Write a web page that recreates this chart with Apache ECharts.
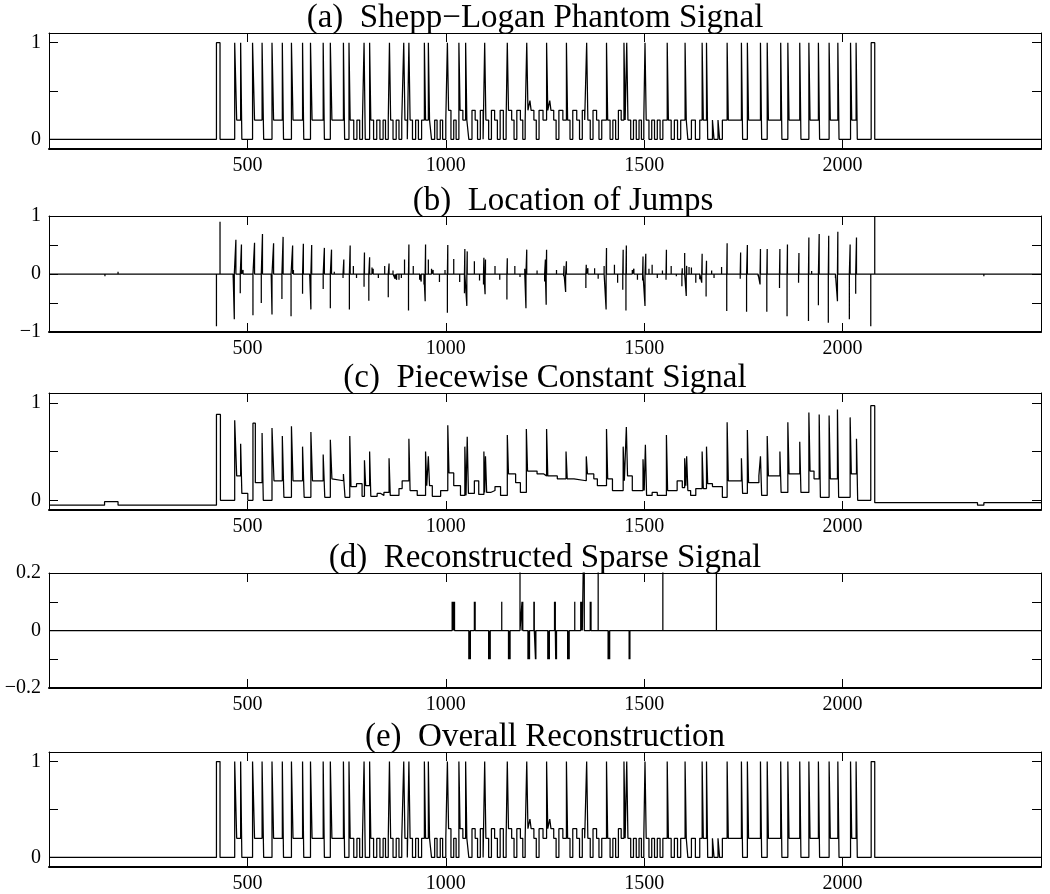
<!DOCTYPE html>
<html><head><meta charset="utf-8">
<script src="https://cdn.jsdelivr.net/npm/echarts@6/dist/echarts.min.js"></script>
<style>html,body{margin:0;padding:0;background:#fff}#c{width:1050px;height:894px}</style>
</head><body><div id="c"></div>
<script>
// ---------- titles & ticks ----------
const panelTitles = [
  '(a)  Shepp\u2212Logan Phantom Signal',
  '(b)  Location of Jumps',
  '(c)  Piecewise Constant Signal',
  '(d)  Reconstructed Sparse Signal',
  '(e)  Overall Reconstruction'
];
const xTickValues = [500, 1000, 1500, 2000];
const xRange = [0, 2500];
const yRanges = [[-0.1, 1.1], [-1, 1], [-0.1, 1.1], [-0.2, 0.2], [-0.1, 1.1]];
const yTickValues = [[0, 0.5, 1], [-1, -0.5, 0, 0.5, 1], [0, 0.5, 1], [-0.2, -0.1, 0, 0.1, 0.2], [0, 0.5, 1]];
const yTickLabels = [[0, 1], [-1, 0, 1], [0, 1], [-0.2, 0, 0.2], [0, 1]];

// ---------- (a) phantom signal: [start, level] (level holds until next start) ----------
const phantomSteps = [[0,0],[422,1],[431,0],[468,1],[473,0.2],[483,1],[486,0],[513,1],[518,0.2],[537,1],[541,0],[562,1],[566,0.2],[588,1],[591,0],[611,1],[615,0.2],[639,1],[642,0],[659,1],[663,0.2],[691,1],[694,0],[709,1],[713,0.2],[742,1],[745,0],[756,1],[759,0.2],[768,0],[776,0.2],[783,0],[790,0.2],[794,1],[797,0],[808,1],[811,0.2],[818,0],[826,0.2],[834,0],[842,0.2],[848,0],[855,0.2],[858,1],[861,0.2],[867,0],[875,0.2],[882,0],[889,0.2],[894,1],[897,0.2],[903,0],[907,1],[910,0.2],[916,0],[924,0.2],[931,0],[939,0.2],[946,1],[949,0.2],[956,1],[959,0.2],[964,0],[972,0.2],[978,0],[986,0.2],[992,0],[1000,0.2],[1004,1],[1007,0.3],[1013,0],[1020,0.2],[1026,0],[1033,1],[1036,0.3],[1043,0.2],[1050,1],[1053,0.2],[1058,0],[1066,0.3],[1074,0.2],[1080,0],[1087,0.3],[1094,0],[1098,1],[1101,0.2],[1108,0],[1115,0.3],[1123,0.2],[1130,0],[1137,0.3],[1145,0],[1152,0.2],[1155,1],[1158,0.3],[1166,0.2],[1172,0],[1179,0.3],[1188,0.2],[1194,0],[1200,0.2],[1204,1],[1207,0.3],[1212,0.4],[1215,0.3],[1222,0.2],[1228,0],[1235,0.3],[1245,0.2],[1254,1],[1257,0.3],[1262,0.4],[1265,0.3],[1272,0.2],[1278,0],[1285,0.3],[1295,0.2],[1304,1],[1307,0.2],[1313,0],[1320,0.3],[1330,0.2],[1337,0],[1344,0.3],[1350,0.2],[1355,1],[1358,0.2],[1364,0],[1371,0.3],[1380,0.2],[1386,0],[1393,0.2],[1405,1],[1408,0.2],[1414,0],[1421,0.2],[1428,0],[1435,0.3],[1442,0.2],[1449,1],[1452,0.2],[1456,1],[1459,0.2],[1466,0],[1473,0.2],[1480,0],[1487,0.2],[1493,0],[1499,0.2],[1502,1],[1505,0.2],[1512,0],[1519,0.2],[1526,0],[1533,0.2],[1540,0],[1547,0.2],[1558,1],[1561,0.2],[1568,0],[1576,0.2],[1584,0],[1592,0.2],[1603,1],[1606,0.2],[1610,0],[1619,0.2],[1629,0],[1640,0.2],[1646,1],[1649,0.2],[1657,1],[1660,0],[1672,0.2],[1676,0],[1686,0.2],[1690,0],[1697,0.2],[1709,1],[1712,0.2],[1745,1],[1748,0],[1760,1],[1763,0.2],[1793,1],[1796,0],[1810,1],[1813,0.2],[1844,1],[1847,0],[1862,1],[1865,0.2],[1892,1],[1895,0],[1915,1],[1918,0.2],[1939,1],[1942,0],[1966,1],[1969,0.2],[1988,1],[1991,0],[2020,1],[2023,0.2],[2034,1],[2037,0],[2072,1],[2081,0]];

// ---------- (b) jump locations: [x, value] ----------
const jumpStems = [[141,-0.04],[174,0.04],[422,-0.9],[431,0.9],[464,-0.06],[467,-0.78],[471,0.59],[482,-0.33],[485,0.51],[489,0.07],[514,-0.71],[518,0.54],[535,-0.5],[538,0.69],[560,-0.04],[562,-0.7],[566,0.53],[587,-0.43],[590,0.64],[610,-0.73],[614,0.49],[616,0.07],[639,-0.34],[641,0.52],[657,-0.04],[660,-0.61],[662,0.5],[691,-0.26],[694,0.45],[709,-0.59],[712,0.42],[719,0.04],[741,-0.07],[743,0.25],[757,-0.61],[759,0.49],[767,0.14],[775,-0.07],[794,-0.22],[795,0.37],[806,-0.46],[808,0.29],[814,0.11],[817,0.09],[830,-0.07],[846,0.14],[855,-0.4],[857,0.18],[867,0.06],[872,-0.08],[876,-0.1],[882,-0.1],[888,-0.07],[896,0.25],[906,-0.63],[907,0.51],[918,0.14],[934,-0.1],[938,-0.13],[945,-0.18],[948,-0.47],[949,0.51],[956,0.25],[964,0.09],[968,0.07],[984,-0.14],[998,0.07],[1004,-0.67],[1005,0.5],[1020,0.26],[1035,-0.14],[1047,-0.33],[1048,0.43],[1053,-0.55],[1054,0.39],[1072,0.22],[1085,-0.11],[1095,-0.18],[1096,0.28],[1099,-0.35],[1100,0.25],[1124,0.14],[1136,-0.1],[1154,-0.44],[1155,0.27],[1174,0.14],[1187,-0.05],[1199,0.09],[1202,-0.59],[1204,0.42],[1230,0.06],[1249,-0.13],[1251,0.25],[1253,-0.53],[1254,0.42],[1279,0.07],[1297,-0.04],[1298,0.14],[1302,-0.31],[1304,0.22],[1323,0.03],[1353,-0.24],[1354,0.16],[1358,0.1],[1375,0.1],[1384,-0.08],[1399,0.14],[1404,-0.61],[1405,0.45],[1425,0.16],[1433,-0.15],[1446,-0.27],[1447,0.42],[1454,-0.63],[1455,0.49],[1470,0.07],[1474,0.09],[1483,-0.1],[1496,-0.11],[1497,0.3],[1502,-0.55],[1504,0.35],[1512,0.09],[1520,0.16],[1533,-0.07],[1546,0.06],[1555,-0.1],[1556,0.42],[1568,0.14],[1581,-0.04],[1595,-0.21],[1596,0.1],[1602,0.36],[1606,-0.38],[1607,0.14],[1613,0.12],[1619,0.11],[1630,-0.15],[1640,-0.09],[1645,-0.15],[1646,0.35],[1656,-0.39],[1657,0.23],[1670,0.06],[1676,-0.07],[1695,0.12],[1708,-0.64],[1709,0.53],[1742,-0.08],[1743,0.37],[1758,-0.65],[1760,0.5],[1787,-0.04],[1792,-0.18],[1793,0.43],[1809,-0.65],[1810,0.43],[1841,-0.24],[1842,0.43],[1860,-0.73],[1861,0.51],[1889,-0.15],[1890,0.36],[1914,-0.81],[1915,0.63],[1922,0.05],[1928,0.03],[1939,-0.54],[1941,0.69],[1964,-0.84],[1965,0.66],[1982,-0.07],[1987,-0.47],[1988,0.73],[2017,-0.78],[2019,0.51],[2033,-0.34],[2035,0.63],[2071,-0.9],[2081,1.0],[2340,0.03],[2356,-0.04]];

// ---------- (c) piecewise constant signal: [start, level] ----------
const pwcSteps = [[0,-0.05],[140,-0.015],[174,-0.05],[422,0.88],[432,0.0],[468,0.82],[473,0.25],[483,0.58],[486,0.07],[501,0.0],[514,0.79],[520,0.18],[537,0.69],[540,0.0],[562,0.74],[567,0.2],[588,0.66],[592,0.03],[611,0.76],[615,0.2],[639,0.55],[643,0.03],[660,0.7],[664,0.2],[691,0.47],[695,0.03],[709,0.62],[713,0.22],[716,0.2],[742,0.27],[746,0.03],[758,0.66],[761,0.14],[775,0.17],[789,0.04],[795,0.41],[798,0.15],[808,0.5],[811,0.04],[827,0.07],[836,0.05],[844,0.08],[857,0.43],[860,0.05],[882,0.12],[890,0.2],[907,0.63],[910,0.1],[928,0.05],[949,0.5],[952,0.15],[956,0.45],[959,0.15],[966,0.04],[987,0.1],[1005,0.77],[1008,0.28],[1020,0.15],[1037,0.05],[1048,0.55],[1051,0.05],[1054,0.65],[1057,0.07],[1072,0.2],[1083,0.06],[1096,0.5],[1098,0.08],[1100,0.45],[1103,0.08],[1113,0.1],[1124,0.14],[1138,0.05],[1155,0.67],[1158,0.27],[1176,0.18],[1188,0.08],[1203,0.73],[1206,0.3],[1230,0.27],[1247,0.25],[1254,0.73],[1257,0.25],[1281,0.22],[1303,0.5],[1306,0.22],[1323,0.2],[1354,0.45],[1357,0.27],[1373,0.22],[1382,0.15],[1405,0.73],[1408,0.22],[1420,0.1],[1447,0.55],[1450,0.2],[1455,0.75],[1458,0.25],[1470,0.1],[1497,0.42],[1500,0.1],[1503,0.57],[1506,0.05],[1520,0.08],[1533,0.05],[1556,0.67],[1559,0.1],[1583,0.2],[1596,0.13],[1602,0.43],[1605,0.15],[1607,0.45],[1610,0.1],[1617,0.05],[1630,0.12],[1646,0.5],[1649,0.12],[1657,0.55],[1660,0.17],[1672,0.14],[1697,0.03],[1709,0.8],[1712,0.2],[1745,0.43],[1748,0.07],[1760,0.72],[1763,0.18],[1789,0.25],[1793,0.45],[1796,0.05],[1810,0.66],[1813,0.25],[1842,0.5],[1845,0.08],[1862,0.8],[1865,0.27],[1892,0.6],[1895,0.08],[1915,0.9],[1918,0.3],[1928,0.22],[1941,0.88],[1944,0.03],[1966,0.87],[1969,0.22],[1987,0.93],[1990,0.03],[2019,0.85],[2022,0.27],[2035,0.63],[2038,0.0],[2071,0.97],[2081,-0.025],[2340,-0.05],[2356,-0.025]];

// ---------- (d) reconstructed sparse signal: [x, value] ----------
const sparseStems = [[1016,0.1],[1018,0.1],[1020,0.1],[1022,0.1],[1058,-0.1],[1060,-0.1],[1062,-0.1],[1072,0.1],[1074,0.1],[1108,-0.1],[1110,-0.1],[1112,-0.1],[1141,0.1],[1158,-0.1],[1160,-0.1],[1162,-0.1],[1187,0.45],[1192,0.1],[1194,0.1],[1207,-0.1],[1209,-0.1],[1211,-0.1],[1222,0.1],[1223,0.1],[1226,-0.1],[1227,-0.1],[1257,-0.1],[1259,-0.1],[1261,-0.1],[1274,0.1],[1276,0.1],[1277,-0.1],[1279,-0.1],[1307,-0.1],[1309,-0.1],[1311,-0.1],[1325,0.1],[1340,0.1],[1342,0.1],[1344,0.1],[1349,0.45],[1364,0.1],[1366,0.1],[1384,0.45],[1409,-0.1],[1411,-0.1],[1413,-0.1],[1462,-0.1],[1464,-0.1],[1547,0.45],[1682,0.45]];

// ---------- (e) overall reconstruction (reads identical to (a)) ----------
const reconSteps = phantomSteps.map(p => p.slice());

// ---------- build ----------
const FONT = '"Liberation Serif","Times New Roman",serif';
const gridTops = [33, 216, 393, 573, 752];
const gridHeights = [116, 116, 117, 115, 115];
const titleCenters = [535, 563, 545, 545, 545];
const plotLeft = 49, plotWidth = 992;

function stepSeriesData(steps) {
  const d = steps.map(s => [s[0], s[1]]);
  d.push([xRange[1], steps[steps.length - 1][1]]);
  return d;
}
function stemSeriesData(stems) {
  const s = stems.slice().sort((a, b) => a[0] - b[0]);
  const d = [[xRange[0], 0]];
  s.forEach(p => { d.push([p[0], 0], [p[0], p[1]], [p[0], 0]); });
  d.push([xRange[1], 0]);
  return d;
}
const fmtY = v => String(+(+v).toFixed(2)).replace('-', '\u2212');
const fmtX = v => String(Math.round(v));

const grids = [], xAxes = [], yAxes = [], series = [], graphics = [];
const seriesData = [stepSeriesData(phantomSteps), stemSeriesData(jumpStems), stepSeriesData(pwcSteps), stemSeriesData(sparseStems), stepSeriesData(reconSteps)];
const isStep = [true, false, true, false, true];

for (let i = 0; i < 5; i++) {
  grids.push({ left: plotLeft, top: gridTops[i], width: plotWidth, height: gridHeights[i], containLabel: false });
  const common = {
    gridIndex: i, type: 'value', min: xRange[0], max: xRange[1],
    splitLine: { show: false },
    axisLine: { show: true, onZero: false, lineStyle: { color: '#000', width: 1 } },
    axisTick: { show: true, inside: true, length: 9, customValues: xTickValues, lineStyle: { color: '#000', width: 1 } }
  };
  xAxes.push(Object.assign({}, common, {
    position: 'bottom',
    axisLine: { show: true, onZero: false, lineStyle: { color: '#000', width: 2 } },
    axisLabel: { show: true, customValues: xTickValues, formatter: fmtX, fontFamily: FONT, fontSize: 20, color: '#000', margin: 7 }
  }));
  xAxes.push(Object.assign({}, common, { position: 'top', axisLabel: { show: false } }));
  const yc = {
    gridIndex: i, type: 'value', min: yRanges[i][0], max: yRanges[i][1],
    splitLine: { show: false },
    axisLine: { show: true, onZero: false, lineStyle: { color: '#000', width: 1 } },
    axisTick: { show: true, inside: true, length: 9, customValues: yTickValues[i], lineStyle: { color: '#000', width: 1 } }
  };
  yAxes.push(Object.assign({}, yc, {
    position: 'left',
    axisLabel: { show: true, customValues: yTickLabels[i], formatter: fmtY, fontFamily: FONT, fontSize: 20, color: '#000', margin: 8 }
  }));
  yAxes.push(Object.assign({}, yc, { position: 'right', axisLabel: { show: false } }));

  series.push({
    type: 'line', xAxisIndex: 2 * i, yAxisIndex: 2 * i,
    data: seriesData[i], step: isStep[i] ? 'end' : false,
    symbol: 'none', showSymbol: false, silent: true, animation: false, clip: true,
    lineStyle: { color: '#000', width: 1.25 }
  });

  graphics.push({
    type: 'text', x: titleCenters[i], y: gridTops[i] - 15, z: 100,
    style: { text: panelTitles[i], font: '33px ' + FONT, fill: '#000',
      textAlign: 'center', textVerticalAlign: 'middle', align: 'center', verticalAlign: 'middle' }
  });
}

const chart = echarts.init(document.getElementById('c'), null, { renderer: 'canvas', width: 1050, height: 894 });
chart.setOption({
  animation: false,
  backgroundColor: '#fff',
  grid: grids, xAxis: xAxes, yAxis: yAxes, series: series, graphic: graphics
});
</script>
</body></html>
